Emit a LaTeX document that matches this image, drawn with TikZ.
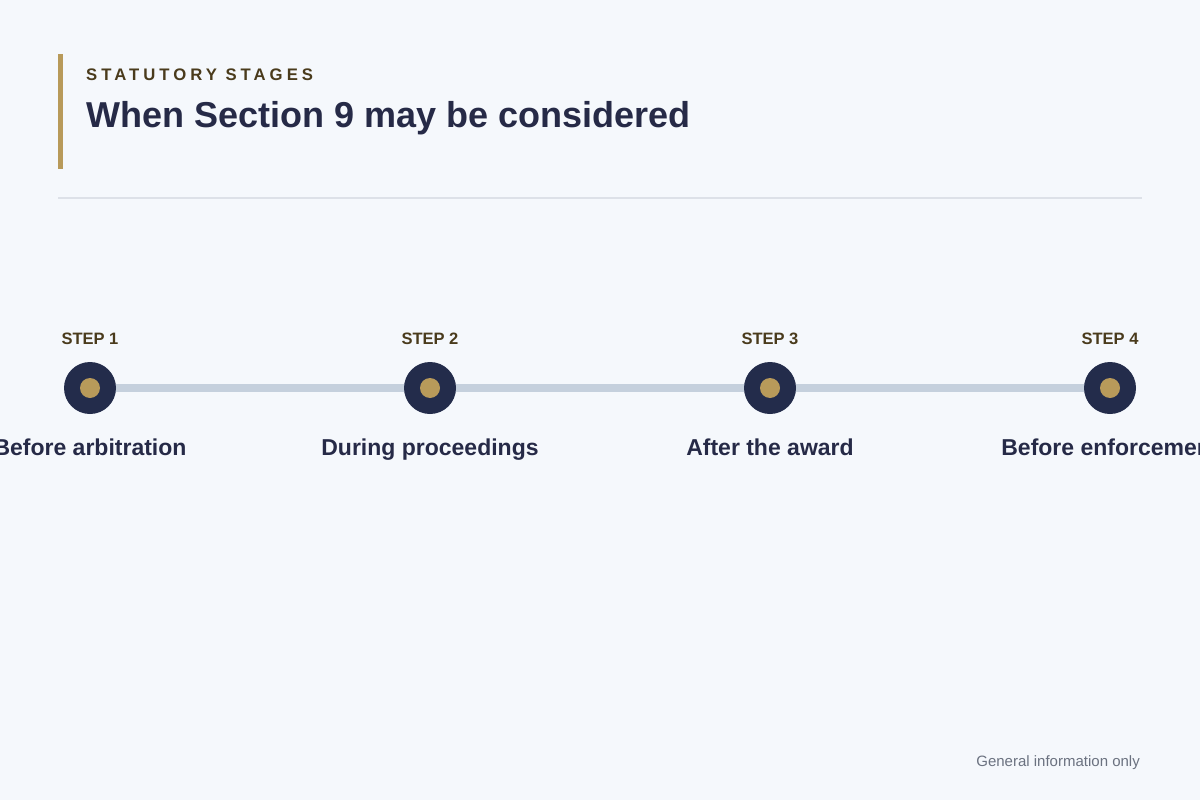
\documentclass[tikz,border=0pt]{standalone}
\usepackage{fontspec}
\setmainfont{Liberation Sans}
\newfontfamily\kickerfont[LetterSpace=24]{Liberation Sans}
\definecolor{bgpage}{HTML}{F5F8FC}
\definecolor{navy}{HTML}{232C4B}
\definecolor{titlenavy}{HTML}{262A47}
\definecolor{gold}{HTML}{B89A5A}
\definecolor{brownish}{HTML}{4A3B1C}
\definecolor{rail}{HTML}{C5D0DD}
\definecolor{rule}{HTML}{DDE1E8}
\definecolor{muted}{HTML}{6B7280}
\begin{document}
\begin{tikzpicture}[x=1pt, y=-1pt, line join=round,
  stepnum/.style={font=\bfseries\fontsize{16.5}{18}\selectfont, text=brownish, anchor=base, inner sep=0pt},
  stagelabel/.style={font=\bfseries\fontsize{23}{26}\selectfont, text=titlenavy, anchor=base, inner sep=0pt},
  outerdot/.style={circle, fill=navy, minimum size=52pt, inner sep=0pt},
  innerdot/.style={circle, fill=gold, minimum size=20pt, inner sep=0pt}]
\def\railY{388}
\fill[bgpage] (0,0) rectangle (1200,800);
\useasboundingbox (0,0) rectangle (1200,800);
\clip (0,0) rectangle (1200,800);
% header
\fill[gold] (58,54) rectangle (63,169);
\node[anchor=base west, inner sep=0pt, text=brownish, font=\kickerfont\bfseries\fontsize{16.7}{18}\selectfont] (kicker) at (86,81) {STATUTORY STAGES};
\node[anchor=base west, inner sep=0pt, text=titlenavy, font=\bfseries\fontsize{36}{42}\selectfont] (title) at (86,127) {When Section 9 may be considered};
\draw[rule, line width=1.5pt] (58,198) -- (1142,198);
% timeline
\foreach \i/\x in {1/90, 2/430, 3/770, 4/1110}
  \coordinate (c\i) at (\x,\railY);
\draw[rail, line width=8pt] (c1) -- (c4);
\foreach \i/\lbl in {1/Before arbitration, 2/During proceedings, 3/After the award, 4/Before enforcement}{
  \node[outerdot] (dot\i) at (c\i) {};
  \node[innerdot] at (c\i) {};
  \node[stepnum] (step\i) at ([yshift=44pt]c\i) {STEP \i};
  \node[stagelabel] (stage\i) at ([yshift=-67pt]c\i) {\lbl};
}
% footer
\node[anchor=base east, inner sep=0pt, text=muted, font=\fontsize{15}{17}\selectfont] (note) at (1140,766) {General information only};
\end{tikzpicture}
\end{document}
